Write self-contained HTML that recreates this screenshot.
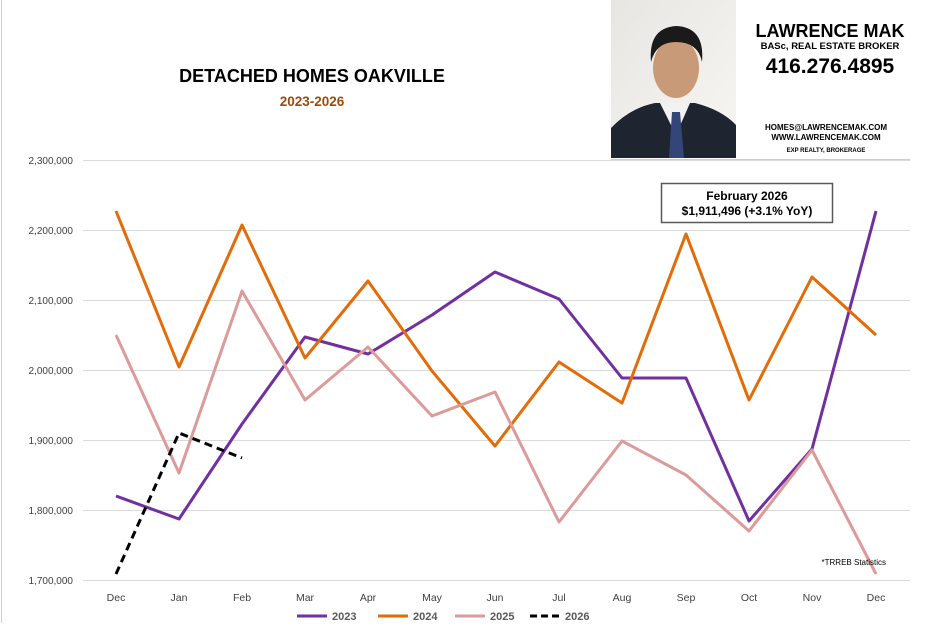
<!DOCTYPE html>
<html><head><meta charset="utf-8"><style>
body{margin:0;background:#fff;}
svg text{font-family:"Liberation Sans",sans-serif;}
</style></head><body>
<svg width="928" height="623" viewBox="0 0 928 623" xmlns="http://www.w3.org/2000/svg">
<rect x="0" y="0" width="928" height="623" fill="#fff"/>
<line x1="1.5" y1="0" x2="1.5" y2="623" stroke="#d0d0d0" stroke-width="1"/>
<g stroke="#d9d9d9" stroke-width="1">
<line x1="83" y1="160.5" x2="910" y2="160.5"/>
<line x1="83" y1="230.5" x2="910" y2="230.5"/>
<line x1="83" y1="300.5" x2="910" y2="300.5"/>
<line x1="83" y1="370.5" x2="910" y2="370.5"/>
<line x1="83" y1="440.5" x2="910" y2="440.5"/>
<line x1="83" y1="510.5" x2="910" y2="510.5"/>
<line x1="83" y1="580.5" x2="910" y2="580.5"/>
</g>
<g font-size="10" fill="#404040" text-anchor="end">
<text x="73" y="164">2,300,000</text>
<text x="73" y="234">2,200,000</text>
<text x="73" y="304">2,100,000</text>
<text x="73" y="374">2,000,000</text>
<text x="73" y="444">1,900,000</text>
<text x="73" y="514">1,800,000</text>
<text x="73" y="584">1,700,000</text>
</g>
<g font-size="10.5" fill="#404040" text-anchor="middle">
<text x="116" y="601">Dec</text><text x="179" y="601">Jan</text><text x="242" y="601">Feb</text>
<text x="305" y="601">Mar</text><text x="368" y="601">Apr</text><text x="432" y="601">May</text>
<text x="495" y="601">Jun</text><text x="559" y="601">Jul</text><text x="622" y="601">Aug</text>
<text x="686" y="601">Sep</text><text x="749" y="601">Oct</text><text x="812" y="601">Nov</text>
<text x="876" y="601">Dec</text>
</g>
<g fill="none" stroke-width="3" stroke-linejoin="round">
<polyline stroke="#7030a0" points="116,496 179,519 242,424 305,337 368,354 432,315 495,272 559,299 622,378 686,378 749,521 812,449 876,211"/>
<polyline stroke="#e36c09" points="116,211 179,367 242,225 305,358 368,281 432,371 495,446 559,362 622,403 686,234 749,400 812,277 876,335"/>
<polyline stroke="#dd9a9a" points="116,335 179,473 242,291 305,400 368,347 432,416 495,392 559,522 622,441 686,475 749,531 812,450 876,574"/>
<polyline stroke="#000" stroke-dasharray="8,5" points="116,574 179,433 242,458"/>
</g>
<text x="312" y="82" font-size="18" font-weight="bold" text-anchor="middle" fill="#000">DETACHED HOMES OAKVILLE</text>
<text x="312" y="106" font-size="13.5" font-weight="bold" text-anchor="middle" fill="#9c4a0e">2023-2026</text>
<rect x="661.5" y="183.5" width="171" height="39" fill="#fff" stroke="#595959" stroke-width="1.5"/>
<text x="747" y="200" font-size="12" font-weight="bold" text-anchor="middle">February 2026</text>
<text x="747" y="215" font-size="12" font-weight="bold" text-anchor="middle">$1,911,496 (+3.1% YoY)</text>
<text x="886" y="565" font-size="8" text-anchor="end">*TRREB Statistics</text>
<defs><linearGradient id="bg" x1="0" y1="0" x2="1" y2="1"><stop offset="0" stop-color="#e8e6e2"/><stop offset="1" stop-color="#f7f6f3"/></linearGradient></defs>
<rect x="611" y="0" width="125" height="158" fill="url(#bg)"/>
<path d="M611,158 L611,128 Q630,108 655,103 L695,103 Q722,110 736,125 L736,158 Z" fill="#1e2430"/>
<path d="M660,103 L676,135 L690,103 Z" fill="#f2f2f2"/>
<path d="M672,112 L680,112 L684,158 L669,158 Z" fill="#34457a"/>
<ellipse cx="676" cy="68" rx="23" ry="30" fill="#c99a78"/>
<path d="M651,62 Q648,28 676,26 Q705,27 702,62 Q698,42 676,42 Q656,42 651,62 Z" fill="#1a1a1a"/>
<text x="830" y="37" font-size="18" font-weight="bold" text-anchor="middle">LAWRENCE MAK</text>
<text x="830" y="49" font-size="9.5" font-weight="bold" text-anchor="middle">BASc, REAL ESTATE BROKER</text>
<text x="830" y="73" font-size="21" font-weight="bold" text-anchor="middle">416.276.4895</text>
<text x="826" y="130" font-size="8" font-weight="bold" text-anchor="middle">HOMES@LAWRENCEMAK.COM</text>
<text x="826" y="140" font-size="8" font-weight="bold" text-anchor="middle">WWW.LAWRENCEMAK.COM</text>
<text x="826" y="152" font-size="6" font-weight="bold" text-anchor="middle">EXP REALTY, BROKERAGE</text>
<line x1="611" y1="159.5" x2="910" y2="159.5" stroke="#ccc"/>
<g stroke-width="3">
<line x1="297" y1="616" x2="327" y2="616" stroke="#7030a0"/>
<line x1="378" y1="616" x2="408" y2="616" stroke="#e36c09"/>
<line x1="455" y1="616" x2="485" y2="616" stroke="#dd9a9a"/>
<line x1="530" y1="616" x2="560" y2="616" stroke="#000" stroke-dasharray="7,4"/>
</g>
<g font-size="11" font-weight="bold" fill="#595959">
<text x="332" y="620">2023</text><text x="413" y="620">2024</text>
<text x="490" y="620">2025</text><text x="565" y="620">2026</text>
</g>
</svg>
</body></html>
